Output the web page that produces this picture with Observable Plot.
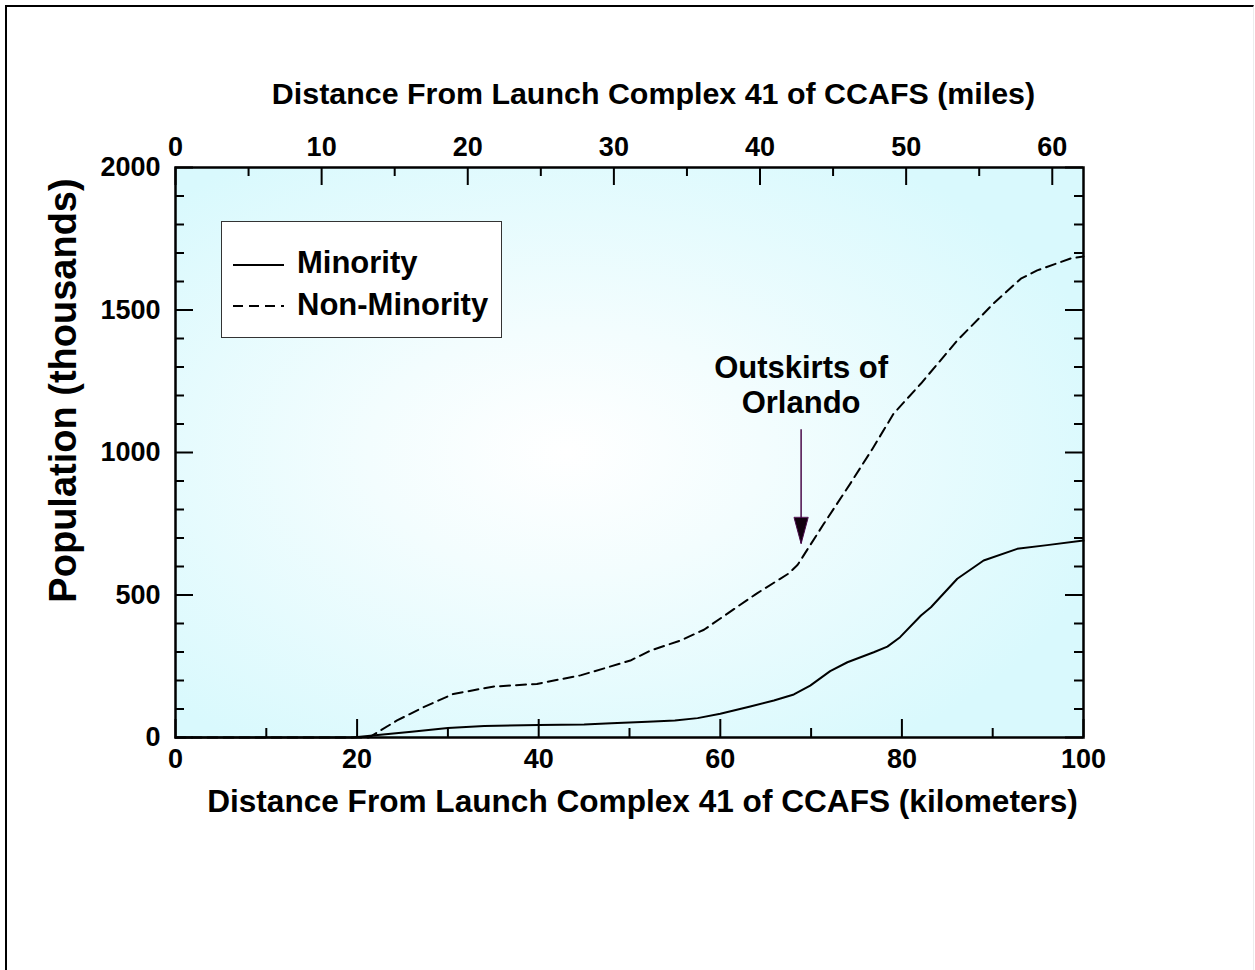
<!DOCTYPE html>
<html><head><meta charset="utf-8">
<script src="https://cdn.jsdelivr.net/npm/d3@7"></script>
<script src="https://cdn.jsdelivr.net/npm/@observablehq/plot@0.6"></script>
<style>
html,body{margin:0;padding:0;background:#fff;overflow:hidden;}
#wrap{position:relative;width:1255px;height:970px;}
#border{position:absolute;left:5px;top:5px;width:1249px;height:990px;border-left:2px solid #000;border-top:2px solid #000;border-right:1px solid #ececec;box-sizing:border-box;pointer-events:none;}
#legend{position:absolute;left:221px;top:221px;font-family:"Liberation Sans",Arial,sans-serif;font-weight:bold;}
</style></head><body>
<div id="wrap"><div id="chart"></div><div id="border"></div><svg id="legend" width="282" height="118"></svg></div>
<script>
const KM_PER_MILE = 1.609344;

// Non-minority cumulative population (thousands) vs distance (km)
const nonMinorityKm  = [0, 10, 20, 21.3, 24.4, 27.3, 30.6, 35.1, 39.8, 44.6, 50.1, 52.3, 55.6, 58.2, 61.3, 64.0, 66.0, 67.5, 68.5, 69.6, 71.4, 74.3, 76.7, 79.1, 82.1, 86.1, 90.1, 93.1, 94.9, 98.6, 100];
const nonMinorityPop = [0, 0, 0, 0, 60, 106, 153, 179, 188, 218, 270, 305, 340, 378, 446, 505, 545, 575, 605, 660, 750, 890, 1010, 1137, 1242, 1393, 1523, 1610, 1639, 1681, 1688];

// Minority cumulative population (thousands) vs distance (km)
const minorityKm  = [0, 10, 19.5, 22, 26, 30, 34, 40, 45, 48, 52, 55, 57.5, 60, 63.3, 65.9, 68.1, 69.9, 72.1, 74, 76.9, 78.4, 79.8, 82.1, 83.2, 86.1, 89, 92.7, 96, 100];
const minorityPop = [0, 0, 0, 8, 20, 33, 40, 44, 46, 50, 55, 60, 68, 83, 109, 130, 151, 182, 233, 264, 299, 319, 352, 428, 457, 557, 621, 662, 675, 691];

const seriesNames = ["Minority", "Non-Minority"];

const kmTicks = [0, 20, 40, 60, 80, 100];
const kmMinorTicks = [10, 30, 50, 70, 90];
const mileTicks = [0, 10, 20, 30, 40, 50, 60];
const mileMinorTicks = [5, 15, 25, 35, 45, 55];
const popTicks = [0, 500, 1000, 1500, 2000];
const popMinorTicks = [100, 200, 300, 400, 600, 700, 800, 900, 1100, 1200, 1300, 1400, 1600, 1700, 1800, 1900];

const xLabel = "Distance From Launch Complex 41 of CCAFS (kilometers)";
const x2Label = "Distance From Launch Complex 41 of CCAFS (miles)";
const yLabel = "Population (thousands)";

const annotationText = "Outskirts of\nOrlando";
const annotationKm = [68.9];
const annotationTipPop = [680];
const annotationTopPop = [1080];

// layout
const W = 1255, H = 970;
const ML = 175, MR = 172, MT = 167, MB = 233;
const PW = W - ML - MR, PH = H - MT - MB;
const MAJOR = 18, MINOR = 9;
const FONT = '"Liberation Sans", Arial, sans-serif';

const minority = minorityKm.map((k, i) => ({km: k, pop: minorityPop[i]}));
const nonMinority = nonMinorityKm.map((k, i) => ({km: k, pop: nonMinorityPop[i]}));
const ann = annotationKm.map((k, i) => ({km: k, tip: annotationTipPop[i], top: annotationTopPop[i], text: annotationText}));
const mileKm = mileTicks.map(m => m * KM_PER_MILE);
const mileMinorKm = mileMinorTicks.map(m => m * KM_PER_MILE);

const triangle = {
  draw(context, l) {
    context.moveTo(-7, 0);
    context.lineTo(0, -l);
    context.lineTo(7, 0);
    context.closePath();
  }
};

const svg = Plot.plot({
  width: W, height: H,
  marginLeft: ML, marginRight: MR, marginTop: MT, marginBottom: MB,
  style: {fontFamily: FONT, fontSize: "27px", fontWeight: "bold", color: "black", background: "transparent", overflow: "visible"},
  x: {domain: [0, 100], label: null},
  y: {domain: [0, 2000], label: null},
  marks: [
    Plot.frame({fill: "url(#bgGrad)", stroke: null}),
    // ticks bottom
    Plot.tickX(kmTicks, {x: d => d, insetTop: PH - MAJOR, stroke: "black", strokeWidth: 2}),
    Plot.tickX(kmMinorTicks, {x: d => d, insetTop: PH - MINOR, stroke: "black", strokeWidth: 2}),
    // ticks top (miles)
    Plot.tickX(mileKm, {x: d => d, insetBottom: PH - MAJOR, stroke: "black", strokeWidth: 2}),
    Plot.tickX(mileMinorKm, {x: d => d, insetBottom: PH - MINOR, stroke: "black", strokeWidth: 2}),
    // ticks left
    Plot.tickY(popTicks, {y: d => d, insetRight: PW - MAJOR, stroke: "black", strokeWidth: 2}),
    Plot.tickY(popMinorTicks, {y: d => d, insetRight: PW - MINOR, stroke: "black", strokeWidth: 2}),
    // ticks right
    Plot.tickY(popTicks, {y: d => d, insetLeft: PW - MAJOR, stroke: "black", strokeWidth: 2}),
    Plot.tickY(popMinorTicks, {y: d => d, insetLeft: PW - MINOR, stroke: "black", strokeWidth: 2}),
    // tick labels
    Plot.axisX(kmTicks, {anchor: "bottom", tickSize: 0, tickPadding: 11, tickFormat: d => String(d), label: null, fontSize: 27}),
    Plot.axisX(mileKm, {anchor: "top", tickSize: 0, tickPadding: 12, tickFormat: d => String(Math.round(d / KM_PER_MILE)), label: null, fontSize: 27}),
    Plot.axisY(popTicks, {anchor: "left", tickSize: 0, tickPadding: 15, tickFormat: d => String(d), label: null, fontSize: 27}),
    // data
    Plot.line(nonMinority, {x: "km", y: "pop", stroke: "black", strokeWidth: 2, strokeDasharray: "10,6", curve: "linear"}),
    Plot.line(minority, {x: "km", y: "pop", stroke: "black", strokeWidth: 2, curve: "linear"}),
    // annotation
    Plot.ruleX(ann, {x: "km", y1: "tip", y2: "top", stroke: "#4a0a4a", strokeWidth: 1.5}),
    Plot.vector(ann, {x: "km", y: "tip", length: 26, rotate: 180, anchor: "end", shape: triangle, fill: "#12000f", stroke: "#4a0a4a", strokeWidth: 1}),
    Plot.text(ann, {x: "km", y: "top", text: "text", lineAnchor: "bottom", dy: -17, fontSize: 31, lineHeight: 1.13, fill: "black"}),
    // axis titles
    Plot.text([xLabel], {frameAnchor: "bottom", text: d => d, textAnchor: "middle", lineAnchor: "bottom", dy: 74, dx: 13, fontSize: 31.6}),
    Plot.text([x2Label], {frameAnchor: "top", text: d => d, textAnchor: "middle", lineAnchor: "bottom", dy: -64, dx: 24, fontSize: 30.4}),
    Plot.text([yLabel], {frameAnchor: "left", text: d => d, textAnchor: "middle", lineAnchor: "middle", rotate: -90, dx: -112, dy: -62, fontSize: 38}),
    Plot.frame({stroke: "black", strokeWidth: 2.5})
  ]
});

const defs = d3.select(svg).insert("defs", ":first-child");
const grad = defs.append("radialGradient").attr("id", "bgGrad")
  .attr("cx", 0.43).attr("cy", 0.5).attr("r", 0.62);
grad.append("stop").attr("offset", "0").attr("stop-color", "#ffffff");
grad.append("stop").attr("offset", "0.35").attr("stop-color", "#f3fdfe");
grad.append("stop").attr("offset", "1").attr("stop-color", "#d9f9fd");

document.getElementById("chart").appendChild(svg);

// legend
const lg = d3.select("#legend");
lg.append("rect").attr("x", 0.5).attr("y", 0.5).attr("width", 280).attr("height", 116)
  .attr("fill", "white").attr("stroke", "#333").attr("stroke-width", 1);
const rows = [{y: 44, ty: 52, dash: null}, {y: 85, ty: 94, dash: "10,6"}];
seriesNames.forEach((name, i) => {
  const r = rows[i];
  lg.append("line").attr("x1", 12).attr("x2", 63).attr("y1", r.y).attr("y2", r.y)
    .attr("stroke", "black").attr("stroke-width", 2).attr("stroke-dasharray", r.dash);
  lg.append("text").attr("x", 76).attr("y", r.ty).attr("font-size", 31).attr("font-weight", "bold")
    .attr("font-family", FONT).attr("fill", "black").text(name);
});
</script>
</body></html>
